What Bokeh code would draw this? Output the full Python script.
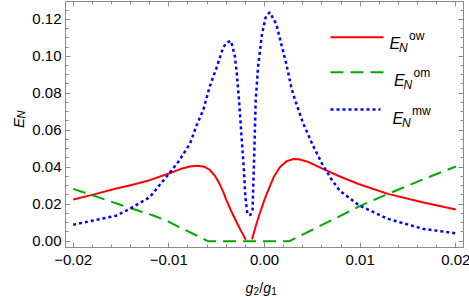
import math
from bokeh.plotting import figure
from bokeh.models import Range1d, LinearAxis, FixedTicker, CustomJSTickFormatter, Label
from bokeh.embed import file_html
from bokeh.resources import INLINE

# ---------------- data ----------------
nan = float("nan")
ow_x = [-0.020, -0.0179, -0.0155, -0.0141, -0.012, -0.010, -0.0088, -0.0078, -0.0070,
        -0.0063, -0.0057, -0.0052, -0.0047, -0.0043, -0.0040, -0.0035, -0.0030, -0.0025,
        -0.00195, nan, -0.0013, -0.0009, -0.0005, 0.0000, 0.0005, 0.0010, 0.0016, 0.0023,
        0.0030, 0.0036, 0.0045, 0.0061, 0.0080, 0.0099, 0.0129, 0.0165, 0.0200]
ow_y = [0.0225, 0.0252, 0.0285, 0.0301, 0.0330, 0.0366, 0.0390, 0.0404, 0.0408,
        0.0403, 0.0385, 0.0355, 0.0310, 0.0265, 0.0225, 0.0165, 0.0112, 0.0060,
        0.0008, nan, 0.0010, 0.0085, 0.0150, 0.0225, 0.0290, 0.0350, 0.0400, 0.0432,
        0.0444, 0.0443, 0.0430, 0.0391, 0.0347, 0.0308, 0.0256, 0.0211, 0.0171]

om_x = [-0.020, -0.0179, -0.0141, -0.0116, -0.0100, -0.0085, -0.0071, -0.0059,
        0.0026, 0.0050, 0.0075, 0.0099, 0.0129, 0.0165, 0.0200]
om_y = [0.0283, 0.0247, 0.0180, 0.0139, 0.0105, 0.0066, 0.0031, 0.0000,
        0.0000, 0.0062, 0.0126, 0.0188, 0.0256, 0.0333, 0.0404]

mw_x = [-0.020, -0.0179, -0.0155, -0.0141, -0.0120, -0.0100, -0.0090, -0.0078, -0.0071,
        -0.0064, -0.0057, -0.0050, -0.0043, -0.0039, -0.0035, -0.0031, -0.0029, -0.00266,
        -0.00242, -0.00217, -0.0020, -0.0018, -0.0015, -0.00125, -0.0011, -0.00092,
        -0.00068, -0.00026, 0.00012, 0.00054, 0.00123, 0.00175, 0.00228, 0.0028, 0.00315,
        0.00402, 0.00507, 0.0061, 0.0070, 0.00785, 0.0099, 0.0129, 0.01655, 0.0200]
mw_y = [0.0089, 0.0112, 0.0138, 0.0175, 0.0238, 0.0364, 0.0430, 0.0526, 0.0625,
        0.0710, 0.0840, 0.0940, 0.1050, 0.1075, 0.1083, 0.1000, 0.0910, 0.0760,
        0.0580, 0.0400, 0.0240, 0.0150, 0.0140, 0.0170, 0.0420, 0.0760,
        0.0940, 0.1120, 0.1210, 0.1238, 0.1175, 0.1067, 0.0959, 0.0832, 0.0770,
        0.0640, 0.0517, 0.0410, 0.0335, 0.0274, 0.0193, 0.0121, 0.0067, 0.0043]

x_major = [-0.02, -0.01, 0.0, 0.01, 0.02]
x_minor = [-0.02, -0.018, -0.016, -0.014, -0.012, -0.01, -0.008, -0.006, -0.004, -0.002,
           0.0, 0.002, 0.004, 0.006, 0.008, 0.01, 0.012, 0.014, 0.016, 0.018, 0.02]
y_major = [0.0, 0.02, 0.04, 0.06, 0.08, 0.10, 0.12]
y_minor = [0.0, 0.005, 0.01, 0.015, 0.02, 0.025, 0.03, 0.035, 0.04, 0.045, 0.05, 0.055,
           0.06, 0.065, 0.07, 0.075, 0.08, 0.085, 0.09, 0.095, 0.10, 0.105, 0.11, 0.115,
           0.12, 0.125]

series_names = [("ow", "red"), ("om", "green"), ("mw", "blue")]

# ---------------- layout ----------------
X_LO, X_HI = -0.0208, 0.0208
Y_LO, Y_HI = -0.0034, 0.1296
FL, FR, FT, FB = 62, 460, 1, 247   # frame edges in picture pixels
W, H = 469, 297
FONT = "Liberation Sans"
GRAY = "#8a8a8a"
RED, GREEN, BLUE = "#ff0000", "#00aa00", "#0000ff"
DASH_OM, DASH_MW = "13 7", "3 3"


def px2x(px):
    return X_LO + (px - FL) / (FR - FL) * (X_HI - X_LO)


def py2y(py):
    return Y_HI - (py - FT) / (FB - FT) * (Y_HI - Y_LO)


p = figure(width=W, height=H, frame_width=FR - FL, frame_height=FB - FT,
           output_backend="svg", toolbar_location=None,
           x_range=Range1d(X_LO, X_HI), y_range=Range1d(Y_LO, Y_HI),
           x_axis_type=None, y_axis_type=None,
           min_border_left=FL, min_border_right=W - FR, min_border_top=FT,
           min_border_bottom=H - FB)
p.background_fill_color = "white"
p.border_fill_color = "white"
p.outline_line_color = GRAY
p.outline_line_width = 1
p.xgrid.visible = False
p.ygrid.visible = False

fmt_x = CustomJSTickFormatter(code="""
const s = Math.abs(tick).toFixed(2);
return (tick < -1e-9 ? '\u2212' : '') + s;""")
fmt_y = CustomJSTickFormatter(code="return Math.abs(tick) < 1e-9 ? '0.00' : tick.toFixed(2);")
fmt_none = CustomJSTickFormatter(code="return '';")


def style_axis(ax, show):
    ax.axis_line_color = GRAY
    ax.major_tick_line_color = GRAY
    ax.minor_tick_line_color = GRAY
    ax.major_tick_in = 5
    ax.major_tick_out = 0
    ax.minor_tick_in = 3
    ax.minor_tick_out = 0
    if show:
        ax.major_label_text_font = FONT
        ax.major_label_text_font_size = "15px"
        ax.major_label_text_color = "black"
    else:
        ax.major_label_text_font_size = "0px"
        ax.major_label_standoff = 0


xb = LinearAxis(ticker=FixedTicker(ticks=x_major, minor_ticks=x_minor), formatter=fmt_x)
style_axis(xb, True)
xb.major_label_standoff = 7
xt = LinearAxis(ticker=FixedTicker(ticks=x_major, minor_ticks=x_minor), formatter=fmt_none)
style_axis(xt, False)
yl = LinearAxis(ticker=FixedTicker(ticks=y_major, minor_ticks=y_minor), formatter=fmt_y)
style_axis(yl, True)
yl.major_label_standoff = 4
yr = LinearAxis(ticker=FixedTicker(ticks=y_major, minor_ticks=y_minor), formatter=fmt_none)
style_axis(yr, False)
p.add_layout(xb, "below")
p.add_layout(xt, "above")
p.add_layout(yl, "left")
p.add_layout(yr, "right")

# ---------------- curves ----------------
p.line(ow_x, ow_y, line_color=RED, line_width=2, line_join="round")
p.line(om_x, om_y, line_color=GREEN, line_width=2, line_dash=DASH_OM)
p.line(mw_x, mw_y, line_color=BLUE, line_width=2.5, line_dash=DASH_MW)


def lab(px, py, text, size, italic=False, angle=0.0, place=None):
    if place is not None:
        pos = dict(x=px, y=py, x_units="canvas", y_units="canvas")
    else:
        pos = dict(x=px2x(px), y=py2y(py))
    lbl = Label(text=text, text_font=FONT,
                text_font_size=f"{size}px",
                text_font_style="italic" if italic else "normal",
                text_align="left", text_baseline="alphabetic",
                angle=angle, text_color="black", **pos)
    if place is None:
        p.add_layout(lbl)
    else:
        p.add_layout(lbl, place)


# ---------------- legend (manual, for sub/superscripts) ----------------
legend_rows = [  # (line y, line x0, x1, E x, E baseline, dash, width, color, sup)
    (36.7, 327, 380, 386.0, 43.3, None, 2, RED, series_names[0][0]),
    (71.7, 327, 382, 390.5, 80.0, DASH_OM, 2, GREEN, series_names[1][0]),
    (109.0, 327, 377, 389.0, 118.3, DASH_MW, 2.5, BLUE, series_names[2][0]),
]
for ly, x0, x1, ex, eb, dash, lw, col, sup in legend_rows:
    kw = dict(line_color=col, line_width=lw)
    if dash:
        kw["line_dash"] = dash
    p.line([px2x(x0), px2x(x1)], [py2y(ly), py2y(ly)], **kw)
    lab(ex, eb, "E", 16, italic=True)
    lab(ex + 9.5, eb + 4.5, "N", 12, italic=True)
    lab(ex + 19.5, eb - 7.5, sup, 12)

# ---------------- axis titles (side panels, canvas units) ----------------
bx, bb = 245, 287.5
lab(bx, bb, "g", 14, italic=True, place="below")
lab(bx + 8.0, bb + 3, "2", 10, place="below")
lab(bx + 13.8, bb, "/", 14, place="below")
lab(bx + 17.7, bb, "g", 14, italic=True, place="below")
lab(bx + 25.7, bb + 3, "1", 10, place="below")

lab(17.5, 127.5, "E", 15, italic=True, angle=math.pi / 2, place="left")
lab(20.5, 118.0, "N", 11, italic=True, angle=math.pi / 2, place="left")

open("out.html", "w").write(file_html(p, INLINE))
